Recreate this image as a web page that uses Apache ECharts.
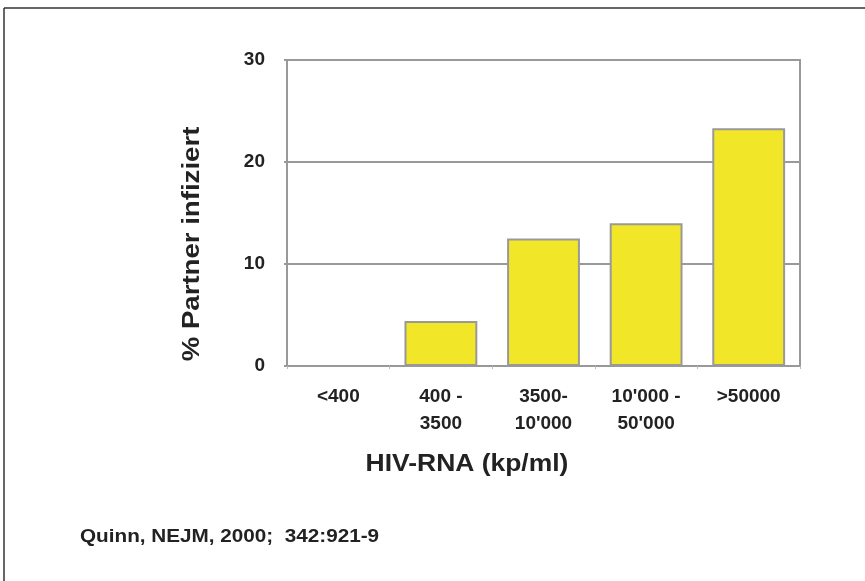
<!DOCTYPE html>
<html>
<head>
<meta charset="utf-8">
<script src="https://cdn.jsdelivr.net/npm/echarts@6/dist/echarts.min.js"></script>
<style>
html,body{margin:0;padding:0;background:#fff;}
#chart{width:865px;height:581px;}
</style>
</head>
<body>
<div id="chart"></div>
<script>
const categories = ['<400', '400 -\n3500', '3500-\n10\'000', '10\'000 -\n50\'000', '>50000'];
const values = [0, 4.4, 12.5, 14.0, 23.3];
const yTicks = [0, 10, 20, 30];
const xTitle = 'HIV-RNA (kp/ml)';
const yTitle = '% Partner infiziert';
const sourceText = 'Quinn, NEJM, 2000;  342:921-9';

const chart = echarts.init(document.getElementById('chart'), null, {renderer: 'canvas'});
const font = '"Liberation Sans", Arial, sans-serif';
chart.setOption({
  animation: false,
  backgroundColor: '#fff',
  grid: {left: 287, top: 60, width: 513, height: 306, show: true, borderColor: '#999', borderWidth: 2},
  xAxis: {
    type: 'category',
    data: categories,
    axisLine: {lineStyle: {color: '#999', width: 2}},
    axisTick: {show: true, length: 3, lineStyle: {color: '#bbb'}},
    axisLabel: {color: '#222', fontFamily: font, fontWeight: 'bold', fontSize: 19, lineHeight: 27, margin: 17}
  },
  yAxis: {
    type: 'value',
    min: yTicks[0], max: yTicks[yTicks.length - 1], interval: 10,
    axisLine: {show: true, lineStyle: {color: '#999', width: 2}},
    axisTick: {show: true, length: 3, lineStyle: {color: '#999', width: 2}},
    splitLine: {lineStyle: {color: '#999', width: 2}},
    axisLabel: {color: '#222', fontFamily: font, fontWeight: 'bold', fontSize: 19, margin: 22}
  },
  series: [{
    type: 'bar',
    data: values,
    barWidth: '71%',
    itemStyle: {color: '#F2E629', borderColor: '#999', borderWidth: 2}
  }],
  graphic: [
    {type: 'line', shape: {x1: 4, y1: 8, x2: 865, y2: 8}, style: {stroke: '#333', lineWidth: 1.5}},
    {type: 'line', shape: {x1: 4, y1: 8, x2: 4, y2: 581}, style: {stroke: '#333', lineWidth: 1.5}},
    {type: 'text', x: 467, y: 465, scaleX: 1.15,
      style: {text: xTitle, font: 'bold 23px ' + font, fill: '#222', align: 'center', verticalAlign: 'middle'}},
    {type: 'text', x: 193, y: 244, rotation: Math.PI / 2, scaleX: 1.2,
      style: {text: yTitle, font: 'bold 23px ' + font, fill: '#222', align: 'center', verticalAlign: 'middle'}},
    {type: 'text', x: 80, y: 537, scaleX: 1.15,
      style: {text: sourceText, font: 'bold 18px ' + font, fill: '#222', align: 'left', verticalAlign: 'middle'}}
  ]
});
</script>
</body>
</html>
